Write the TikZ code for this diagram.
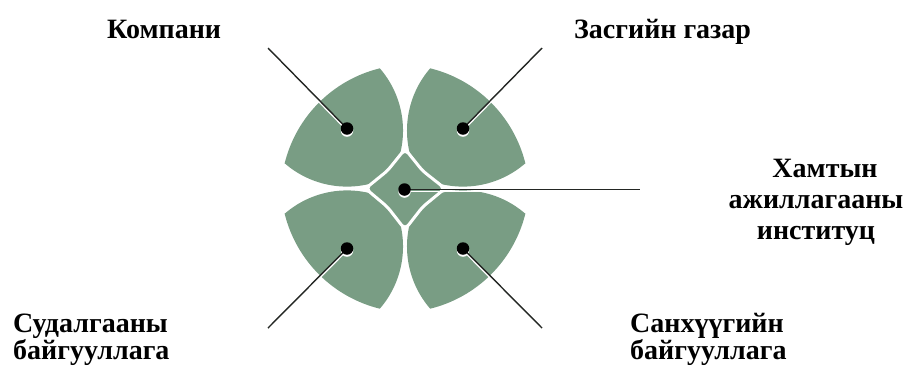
\documentclass[tikz,border=0pt]{standalone}
\usepackage{fontspec}
\setmainfont{Liberation Serif}
\pgfdeclarelayer{bg}
\pgfdeclarelayer{fg}
\pgfsetlayers{bg,main,fg}
\definecolor{petalgreen}{RGB}{121,157,132}
\definecolor{linegray}{RGB}{35,38,35}
\tikzset{
  petal/.pic={
    \fill[petalgreen] (-120.2,-25.1) arc[start angle=130.9, end angle=68, radius=95]
      -- (-8.9,-22.4) arc[start angle=22, end angle=-40.9, radius=95]
      arc[start angle=256.2, end angle=193.8, radius=130] -- cycle;
  },
  dot/.style={circle, fill=black, inner sep=0pt, minimum size=12.5pt},
  halo/.style={circle, fill=white, inner sep=0pt, minimum size=12.5pt},
  conn/.style={draw=linegray, line width=1.4pt},
  connshadow/.style={draw=white, line width=1.6pt, transform canvas={yshift=-1.8pt}},
  lbl/.style={inner sep=0pt, font=\bfseries\fontsize{28}{31}\selectfont},
}
\begin{document}
\begin{tikzpicture}[x=1pt,y=-1pt]
\useasboundingbox (0,0) rectangle (909,368);
\begin{pgfonlayer}{bg}
  \pic at (405,188.5) {petal};
  \pic[xscale=-1] at (405,188.5) {petal};
  \pic[yscale=-1] at (405,188.5) {petal};
  \pic[xscale=-1,yscale=-1] at (405,188.5) {petal};
  \filldraw[fill=petalgreen, draw=white, line width=3pt, line join=round,
            rounded corners=5pt, shift={(405,188.5)}]
    (-39.5,0) -- (-17.5,-17.8) -- (0,-39.5) -- (17.5,-17.8) -- (40,0)
    -- (17.5,18.5) -- (0,41) -- (-17.5,18.5) -- cycle;
\end{pgfonlayer}
% end points of the connectors
\coordinate (e1) at (268,48);
\coordinate (e2) at (542,48);
\coordinate (e0) at (640,189.5);
\coordinate (e3) at (268,328);
\coordinate (e4) at (542,328);
% white halos under the dots
\node[halo] (h1) at (347,130.5) {};
\node[halo] (h2) at (463,130.5) {};
\node[halo] (h0) at (404.5,191.5) {};
\node[halo] (h3) at (347,250.5) {};
\node[halo] (h4) at (463,250.5) {};
\begin{pgfonlayer}{fg}
  \node[dot] (d1) at (347,128.5) {};
  \node[dot] (d2) at (463,128.5) {};
  \node[dot] (d0) at (404.5,189.5) {};
  \node[dot] (d3) at (347,248.5) {};
  \node[dot] (d4) at (463,248.5) {};
\end{pgfonlayer}
% connectors
\foreach \i in {1,2,0,3,4}{
  \path[connshadow] (d\i.center) -- (e\i);
  \path[conn] (d\i.center) -- (e\i);
}
% labels
\node[lbl, anchor=base west] (lk) at (107,38) {Компани};
\node[lbl, anchor=base west] (lz) at (574,38) {Засгийн газар};
\node[lbl, align=center, anchor=north] (lh) at (816,159) {\hspace*{18pt}Хамтын\\ажиллагааны\\институц};
\node[lbl, align=left, anchor=north west, font=\bfseries\fontsize{28}{26}\selectfont] (ls) at (13,313.5) {Судалгааны\\байгууллага};
\node[lbl, align=left, anchor=north west, font=\bfseries\fontsize{28}{26}\selectfont] (lf) at (630,313.5) {Санхүүгийн\\байгууллага};
\end{tikzpicture}
\end{document}
